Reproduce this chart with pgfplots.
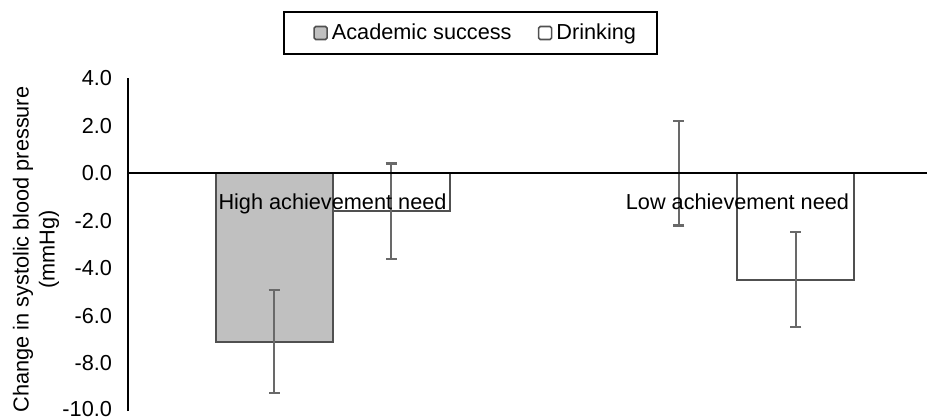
\documentclass[border=0pt]{standalone}
\usepackage{fontspec}
\setmainfont{Liberation Sans}
\usepackage{pgfplots}
\pgfplotsset{compat=1.18}
\definecolor{barfill}{RGB}{192,192,192}
\definecolor{bardraw}{RGB}{80,80,80}
\definecolor{errc}{RGB}{105,105,105}
\begin{document}
\begin{tikzpicture}[x=1pt,y=1pt]
\path[use as bounding box] (0,0) rectangle (463.5,209);
\begin{axis}[
  at={(64pt,3.5pt)}, anchor=south west,
  width=399.5pt, height=166.5pt, scale only axis,
  xmin=-0.505, xmax=1.468, ymin=-10, ymax=4,
  axis x line*=middle, axis y line*=left,
  axis on top,
  x axis line style={black, line width=1pt},
  y axis line style={black, line width=1.2pt},
  font=\fontsize{10.85pt}{13pt}\selectfont,
  xtick={0,1}, xticklabels={High achievement need, Low achievement need},
  ytick={-10,-8,-6,-4,-2,0,2,4},
  yticklabels={\raisebox{1.8pt}{-10.0},-8.0,-6.0,-4.0,-2.0,0.0,2.0,4.0},
  major tick length=0pt,
  xticklabel style={anchor=base, yshift=-18pt},
  yticklabel style={anchor=east, xshift=-4.5pt},
  ylabel={Change in systolic blood pressure\\(mmHg)},
  ylabel style={at={(axis description cs:-0.115,0.485)}, anchor=center, align=center},
  ybar=0pt, bar width=58.5pt,
  legend columns=2,
  legend style={at={(axis description cs:0.4287,1.135)}, anchor=center,
    draw=black, line width=1pt, inner xsep=8.5pt, inner ysep=4pt,
    font=\fontsize{10.85pt}{13pt}\selectfont,
    /tikz/every even column/.append style={column sep=5pt}},
]
\addplot[fill=barfill, draw=bardraw, line width=1pt,
  error bars/.cd, y dir=both, y explicit,
  error bar style={errc, line width=1.2pt},
  error mark options={errc, rotate=90, mark size=2.75pt, line width=1.2pt},
  /pgfplots/legend image code/.code={\path (-6pt,0pt); \draw[fill=barfill, draw=bardraw, line width=0.8pt, rounded corners=0.8pt] (0pt,-3.25pt) rectangle (6.5pt,3.25pt);}]
  coordinates {(0,-7.08) +- (0,2.16) (1,0) +- (0,2.2)};
\addlegendentry{Academic success}
\addplot[fill=white, draw=bardraw, line width=1pt,
  error bars/.cd, y dir=both, y explicit,
  error bar style={errc, line width=1.2pt},
  error mark options={errc, rotate=90, mark size=2.75pt, line width=1.2pt},
  /pgfplots/legend image code/.code={\path (-6pt,0pt); \draw[fill=white, draw=bardraw, line width=0.8pt, rounded corners=0.8pt] (0pt,-3.25pt) rectangle (6.5pt,3.25pt);}]
  coordinates {(0,-1.6) +- (0,2.0) (1,-4.48) +- (0,2.0)};
\addlegendentry{Drinking}
\end{axis}
\end{tikzpicture}
\end{document}
